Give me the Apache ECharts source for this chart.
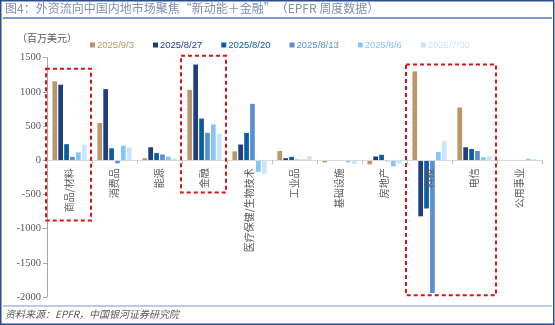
<!DOCTYPE html>
<html><head><meta charset="utf-8">
<script src="https://cdn.jsdelivr.net/npm/echarts@6/dist/echarts.min.js"></script>
<style>html,body{margin:0;padding:0;background:#fff;}#c{width:555px;height:325px;}</style>
</head><body><div id="c"></div>
<script>
const categories = ['商品/材料','消费品','能源','金融','医疗保健/生物技术','工业品','基础设施','房地产','科技','电信','公用事业'];
const seriesNames = ['2025/9/3','2025/8/27','2025/8/20','2025/8/13','2025/8/6','2025/7/30'];
const s0903 = [1155, 545, 30, 1030, 130, 135, -30, -60, 1300, 770, 5];
const s0827 = [1105, 1040, 190, 1400, 230, 30, -5, 55, -820, 190, 3];
const s0820 = [235, 175, 105, 610, 400, 50, -5, 80, -705, 165, 3];
const s0813 = [50, -45, 85, 400, 825, 10, -10, -15, -1940, 135, -3];
const s0806 = [115, 215, 55, 525, -170, 10, -30, -90, 120, 45, 20];
const s0730 = [230, 185, 25, 385, -195, 60, -55, -50, 280, 60, 20];
const yTicks = {min: -2000, max: 1500, interval: 500};
const colors = ['#B8976A','#1E3E80','#0B5CA6','#5A8FD6','#86C6F6','#C9E5FB'];
const seriesData = [s0903, s0827, s0820, s0813, s0806, s0730];
// annotation boxes: [firstCat, lastCat, topValue, bottomValue]
const boxes = [[0,0,1340,-880],[3,3,1530,-470],[8,9,1400,-1975]];

const H = 325, gridTop = 57.7, gridBottom = 28;
const chart = echarts.init(document.getElementById('c'), null, {renderer:'canvas'});
const zeroFrac = yTicks.max / (yTicks.max - yTicks.min);
const zeroPx = gridTop + (H - gridTop - gridBottom) * zeroFrac;
const option = {
  animation: false,
  backgroundColor: '#fff',
  color: colors,
  grid: [
    {left: 47, right: 13, top: gridTop, bottom: gridBottom, containLabel: false},
    {left: 47, right: 13, top: gridTop, bottom: H - zeroPx, containLabel: false}
  ],
  legend: {
    left: 85, top: 35, itemWidth: 5, itemHeight: 5, itemGap: 19, icon: 'rect',
    textStyle: {fontFamily: 'Liberation Sans', fontSize: 9.5, padding: [0,0,0,-3]},
    data: seriesNames.map((n,i)=>({name:n, textStyle:{color: colors[i]}}))
  },
  xAxis: [
    {type: 'category', data: categories, gridIndex: 0,
     axisLine: {show: false}, axisTick: {show: false}, axisLabel: {show: false}},
    {type: 'category', data: categories, gridIndex: 1, z: 10, zlevel: 1,
     axisLine: {show: true, lineStyle: {color: '#D9D9D9', width: 1}},
     axisTick: {show: true, length: 4, interval: 0, alignWithLabel: false, lineStyle: {color: '#BFBFBF'}},
     axisLabel: {rotate: 90, interval: 0, margin: 8, fontSize: 10, color: '#595959', fontFamily: 'Noto Sans CJK SC'}}
  ],
  yAxis: [
    {type: 'value', gridIndex: 0, min: yTicks.min, max: yTicks.max, interval: yTicks.interval,
     name: '（百万美元）', nameLocation: 'end', nameGap: 14,
     nameTextStyle: {color: '#595959', fontSize: 10, fontFamily: 'Noto Sans CJK SC', align: 'center'},
     splitLine: {show: false},
     axisLine: {show: true, lineStyle: {color: '#A6A6A6'}},
     axisTick: {show: true, length: 4, lineStyle: {color: '#A6A6A6'}},
     axisLabel: {fontSize: 10.5, color: '#595959', fontFamily: 'Liberation Serif', margin: 6,
                 formatter: v => String(v)}},
    {type: 'value', gridIndex: 1, show: false, min: 0, max: yTicks.max}
  ],
  series: seriesNames.map((n,i)=>({
    name: n, type: 'bar', data: seriesData[i], barGap: '25%', barCategoryGap: '24%',
    xAxisIndex: 0, yAxisIndex: 0
  }))
};
chart.setOption(option);

const band = chart.convertToPixel({xAxisIndex:0}, 1) - chart.convertToPixel({xAxisIndex:0}, 0);
const g = [
  {type:'rect', shape:{x:0.75,y:0.75,width:553,height:323.5}, style:{fill:'none', stroke:'#2B4C8E', lineWidth:1.5}, silent:true},
  {type:'text', left: 5, top: 2, style:{text:'图4：外资流向中国内地市场聚焦“新动能＋金融”（EPFR 周度数据）', fill:'#7F8FB0', font:'12px "Noto Sans CJK SC"'}},
  {type:'line', shape:{x1:3,y1:18,x2:552,y2:18}, style:{stroke:'#5676B8', lineWidth:1.5}},
  {type:'line', shape:{x1:3,y1:306,x2:552,y2:306}, style:{stroke:'#7A96CF', lineWidth:1.2}},
  {type:'text', left: 5, top: 309, style:{text:'资料来源：EPFR，中国银河证券研究院', fill:'#595959', font:'italic 10px "Noto Sans CJK SC"'}}
];
boxes.forEach(b=>{
  const x0 = chart.convertToPixel({xAxisIndex:0}, b[0]) - band/2 - 1;
  const x1 = chart.convertToPixel({xAxisIndex:0}, b[1]) + band/2 - 1;
  const y0 = chart.convertToPixel({yAxisIndex:0}, b[2]);
  const y1 = chart.convertToPixel({yAxisIndex:0}, b[3]);
  g.push({type:'rect', z: 20, zlevel: 2, shape:{x:x0, y:y0, width:x1-x0, height:y1-y0},
    style:{fill:'none', stroke:'#D7141A', lineWidth:2, lineDash:[4,3]}});
});
chart.setOption({graphic: g});
</script></body></html>
